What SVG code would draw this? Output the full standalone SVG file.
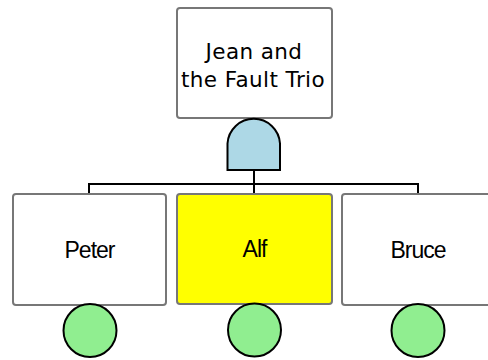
<svg xmlns="http://www.w3.org/2000/svg" width="488" height="360" viewBox="0 0 488 360">
  <style>
    .box { stroke: #777777; stroke-width: 2; }
    .event { fill: #ffffff; }
    .hl { fill: #ffff00; }
    .title { font-family: "DejaVu Sans", Verdana, sans-serif; font-size: 21.5px; letter-spacing: 0.4px; fill: #000; text-anchor: middle; }
    .label { font-family: "Liberation Sans", Arial, sans-serif; font-size: 23px; letter-spacing: -1px; fill: #000; text-anchor: middle; }
    .gate { fill: #add8e6; stroke: #000; stroke-width: 2; }
    .basic { fill: #90ee90; stroke: #000; stroke-width: 2; }
    .wire { fill: none; stroke: #000; stroke-width: 2; }
  </style>

  <!-- connectors from the AND gate to the three events -->
  <g id="connectors">
    <path class="wire" d="M254 170 V194"/>
    <path class="wire" d="M89 194 V184 H418 V194"/>
  </g>

  <!-- top event -->
  <g id="top">
    <rect class="box event" x="177" y="8" width="155" height="110" rx="3"/>
    <text class="title" x="254" y="59">Jean and</text>
    <text class="title" x="253" y="87">the Fault Trio</text>
  </g>

  <!-- AND gate -->
  <g id="gate">
    <path class="gate" d="M227.5 170 V143.5 A26.3 26.3 0 0 1 280 143.5 V170 Z"/>
  </g>

  <g id="peter">
    <rect class="box event" x="13" y="194" width="153" height="111" rx="3"/>
    <text class="label" x="89.5" y="258">Peter</text>
    <circle class="basic" cx="90" cy="330.5" r="26.5"/>
  </g>

  <g id="alf">
    <rect class="box hl" x="177" y="194" width="155" height="110" rx="3"/>
    <text class="label" x="254.5" y="257">Alf</text>
    <circle class="basic" cx="254.5" cy="330" r="26.5"/>
  </g>

  <g id="bruce">
    <rect class="box event" x="342" y="194" width="155" height="111" rx="3"/>
    <text class="label" x="418" y="258">Bruce</text>
    <circle class="basic" cx="418" cy="330.5" r="26.5"/>
  </g>
</svg>
